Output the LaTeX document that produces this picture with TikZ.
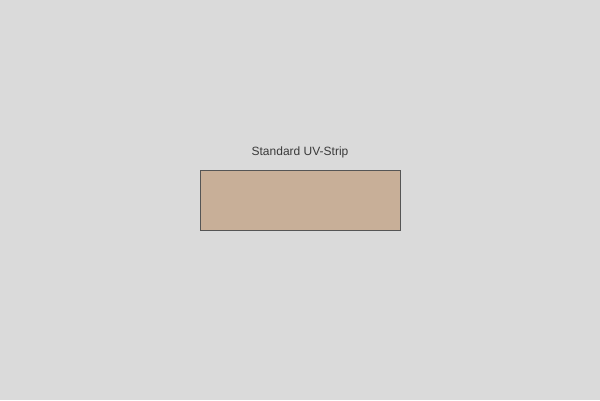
\documentclass[tikz,border=0pt]{standalone}
\usepackage{fontspec}
\setmainfont{Liberation Sans}
\usepackage{tikz}
\definecolor{bggray}{HTML}{DADADA}
\definecolor{striptan}{HTML}{C8AF98}
\definecolor{edgegray}{HTML}{555555}
\definecolor{labelgray}{HTML}{3A3A3A}

\begin{document}
\begin{tikzpicture}[x=1pt,y=-1pt]
                \fill[bggray] (0,0) rectangle (600,400);
                \useasboundingbox (0,0) rectangle (600,400);
                \draw[edgegray,fill=striptan,line width=0.8pt] (200,170) rectangle (400,230);
                \node[labelgray,font=\fontsize{12}{14}\selectfont] (striplabel) at (300,152) {Standard UV-Strip};
            \end{tikzpicture}
\end{document}
